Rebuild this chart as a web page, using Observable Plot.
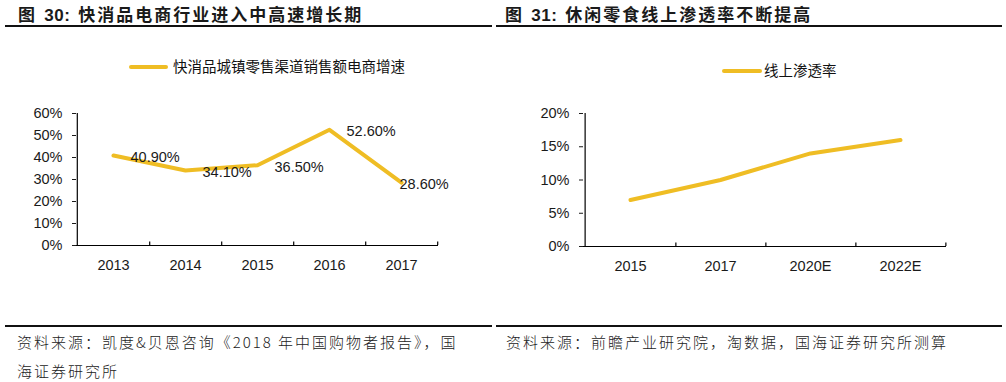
<!DOCTYPE html>
<html>
<head>
<meta charset="utf-8">
<script src="https://cdn.jsdelivr.net/npm/d3@7"></script>
<script src="https://cdn.jsdelivr.net/npm/@observablehq/plot@0.6"></script>
<style>
  html, body { margin: 0; padding: 0; background: #fff; }
  #wrap { position: relative; width: 1006px; height: 382px; background: #fff; overflow: hidden; }
  .abs { position: absolute; }
  .title { font-family: "Noto Sans CJK SC", sans-serif; font-weight: bold; font-size: 17px; letter-spacing: 2px; color: #1a1a1a; white-space: nowrap; line-height: 1; }
  .title .num { font-family: "Liberation Sans", Arial, sans-serif; font-weight: bold; letter-spacing: 0.5px; margin-left: 2px; margin-right: 8px; }
  .rule { background: #111; height: 2px; }
  .legend { font-family: "Noto Sans CJK SC", sans-serif; font-size: 14.5px; color: #111; white-space: nowrap; line-height: 1; }
  .swatch { position: absolute; height: 4px; border-radius: 2px; }
  .foot { font-family: "Noto Sans CJK SC", sans-serif; font-weight: 300; font-size: 15px; letter-spacing: 2px; color: #222; white-space: nowrap; line-height: 1; }
</style>
</head>
<body>
<div id="wrap"></div>
<script>
// ---------- data ----------
const leftTitleNum = "30:";
const leftTitleText = "快消品电商行业进入中高速增长期";
const rightTitleNum = "31:";
const rightTitleText = "休闲零食线上渗透率不断提高";

const leftSeriesName = "快消品城镇零售渠道销售额电商增速";
const leftYears = ["2013", "2014", "2015", "2016", "2017"];
const leftValues = [40.9, 34.1, 36.5, 52.6, 28.6];
const leftLabels = ["40.90%", "34.10%", "36.50%", "52.60%", "28.60%"];
const leftYTicks = [0, 10, 20, 30, 40, 50, 60];

const rightSeriesName = "线上渗透率";
const rightYears = ["2015", "2017", "2020E", "2022E"];
const rightValues = [7, 10, 14, 16];
const rightYTicks = [0, 5, 10, 15, 20];

const leftSource1 = "资料来源：凯度&贝恩咨询《2018 年中国购物者报告》，国";
const leftSource2 = "海证券研究所";
const rightSource = "资料来源：前瞻产业研究院，淘数据，国海证券研究所测算";

const lineColor = "#EFBD24";

// ---------- layout helpers ----------
const wrap = document.getElementById("wrap");
function add(cls, css, html) {
  const d = document.createElement("div");
  d.className = "abs " + cls;
  Object.assign(d.style, css);
  if (html != null) d.innerHTML = html;
  wrap.appendChild(d);
  return d;
}

// titles
add("title", {left: "18px", top: "5px"}, "图<span class='num'> " + leftTitleNum + "</span>" + leftTitleText);
add("title", {left: "505px", top: "5px"}, "图<span class='num'> " + rightTitleNum + "</span>" + rightTitleText);
// title rules
add("rule", {left: "5px", top: "25px", width: "487px"});
add("rule", {left: "496px", top: "25px", width: "506px"});
// bottom rules
add("rule", {left: "5px", top: "325px", width: "487px"});
add("rule", {left: "496px", top: "325px", width: "506px"});

// legends
add("swatch", {left: "129px", top: "65px", width: "39px", background: lineColor});
add("legend", {left: "173px", top: "59px"}, leftSeriesName);
add("swatch", {left: "722px", top: "69px", width: "40px", background: lineColor});
add("legend", {left: "764px", top: "63px"}, rightSeriesName);

// footers
add("foot", {left: "17px", top: "334px"}, leftSource1);
add("foot", {left: "17px", top: "363px"}, leftSource2);
add("foot", {left: "506px", top: "334px"}, rightSource);

// ---------- charts ----------
function chart({cats, vals, labels, yTicks, yMax, W, H, ml, mr, mt, mb}) {
  const rows = cats.map((c, i) => ({cat: c, v: vals[i], label: labels ? labels[i] : null}));
  const bw = (W - ml - mr) / cats.length;
  const innerH = H - mt - mb;
  const tickLen = 3.5 / innerH * yMax;
  const marks = [
    Plot.axisX({tickSize: 0, tickPadding: 14, fontSize: 14.5, label: null}),
    Plot.axisY({ticks: yTicks, tickFormat: d => d + "%", tickSize: 4, tickPadding: 10, fontSize: 14.5, label: null}),
    Plot.ruleY([0], {stroke: "#000", strokeWidth: 1.2}),
    Plot.ruleX([cats[0]], {y1: 0, y2: yMax, dx: -bw / 2, stroke: "#000", strokeWidth: 1.2}),
    Plot.ruleX(cats, {y1: 0, y2: tickLen, dx: bw / 2, stroke: "#000", strokeWidth: 1.2}),
    Plot.line(rows, {x: "cat", y: "v", stroke: lineColor, strokeWidth: 4, strokeLinejoin: "round", strokeLinecap: "round"})
  ];
  if (labels) {
    marks.push(Plot.text(rows.slice(0, rows.length - 1), {x: "cat", y: "v", text: "label", textAnchor: "start", dx: 17, dy: 2, fontSize: 14.5, fill: "#1a1a1a"}));
    marks.push(Plot.text(rows.slice(rows.length - 1), {x: "cat", y: "v", text: "label", textAnchor: "start", dx: -2, dy: 2, fontSize: 14.5, fill: "#1a1a1a"}));
  }
  return Plot.plot({
    width: W, height: H,
    marginLeft: ml, marginRight: mr, marginTop: mt, marginBottom: mb,
    style: {fontFamily: "'Liberation Sans', Arial, sans-serif", fontSize: "14.5px", color: "#1a1a1a", background: "transparent", overflow: "visible"},
    x: {type: "band", domain: cats, padding: 0, label: null},
    y: {domain: [0, yMax], label: null},
    marks
  });
}

const left = chart({cats: leftYears, vals: leftValues, labels: leftLabels, yTicks: leftYTicks, yMax: 60,
  W: 500, H: 170, ml: 76, mr: 62, mt: 13, mb: 25});
left.style.position = "absolute"; left.style.left = "0px"; left.style.top = "100px";
wrap.appendChild(left);

const right = chart({cats: rightYears, vals: rightValues, labels: null, yTicks: rightYTicks, yMax: 20,
  W: 506, H: 170, ml: 83, mr: 60, mt: 13, mb: 24});
right.style.position = "absolute"; right.style.left = "500px"; right.style.top = "100px";
wrap.appendChild(right);
</script>
</body>
</html>
